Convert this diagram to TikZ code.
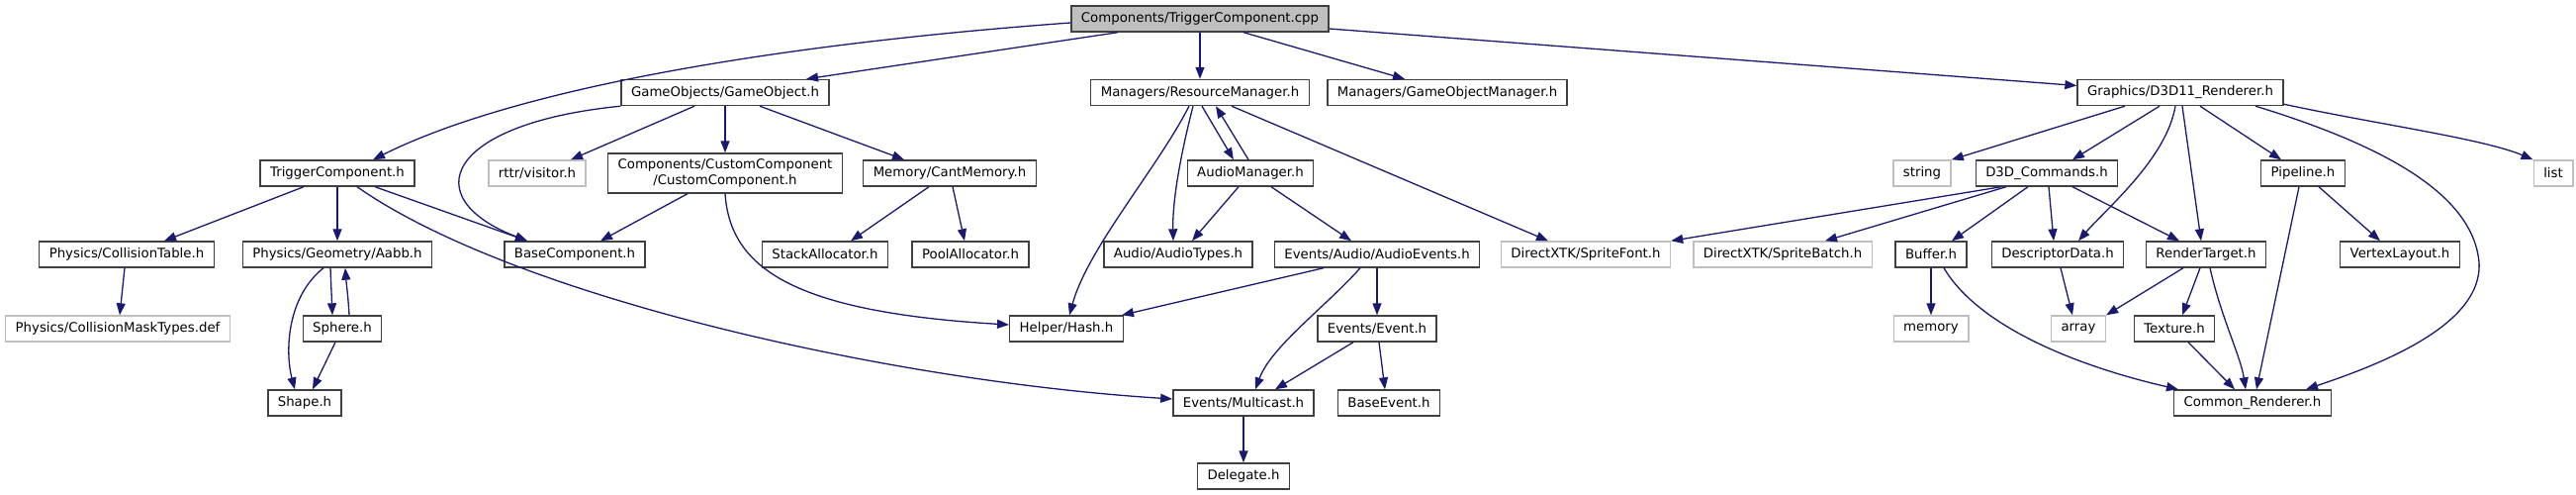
\documentclass[tikz,border=0pt]{standalone}
\usepackage{fontspec}
\setmainfont{DejaVu Sans}
\usetikzlibrary{arrows.meta,positioning}

\definecolor{edgeblue}{HTML}{191970}
\definecolor{sysgray}{HTML}{BFBFBF}
\definecolor{boxline}{HTML}{404040}

\begin{document}
\begin{tikzpicture}[x=1pt,y=-1pt,
  file/.style={draw=boxline,fill=white,line width=1.4pt,minimum height=26pt,
               inner xsep=10pt,inner ysep=3pt,align=center,
               font=\fontsize{13.3}{15.5}\selectfont},
  sysfile/.style={file,draw=sysgray},
  rootfile/.style={file,fill=sysgray},
  edge/.style={draw=edgeblue,line width=1.3pt,-{Triangle[length=12pt,width=9pt]}},
]
\useasboundingbox (0,0) rectangle (2604,500);

% Root
\node[rootfile] (cpp) at (1213,19) {Components/TriggerComponent.cpp};

% Level 1
\node[file] (go) at (733,93.5) {GameObjects/GameObject.h};
\node[file] (resmgr) at (1213,93.5) {Managers/ResourceManager.h};
\node[file] (gomgr) at (1463,93.5) {Managers/GameObjectManager.h};
\node[file] (rend) at (2204,93.5) {Graphics/D3D11\_Renderer.h};

% Level 2
\node[file] (trig) at (341,175) {TriggerComponent.h};
\node[sysfile] (rttr) at (543,175) {rttr/visitor.h};
\node[file,minimum height=40pt] (custom) at (733,175) {Components/CustomComponent\\/CustomComponent.h};
\node[file] (cantmem) at (960,175) {Memory/CantMemory.h};
\node[file] (audiomgr) at (1264,175) {AudioManager.h};
\node[sysfile] (string) at (1943,175) {string};
\node[file] (d3dcmd) at (2069,175) {D3D\_Commands.h};
\node[file] (pipeline) at (2328,175) {Pipeline.h};
\node[sysfile] (list) at (2581,175) {list};

% Level 3
\node[file] (colltab) at (128,257) {Physics/CollisionTable.h};
\node[file] (aabb) at (341,257) {Physics/Geometry/Aabb.h};
\node[file] (basecomp) at (581,257) {BaseComponent.h};
\node[file] (stackalloc) at (834,257) {StackAllocator.h};
\node[file] (poolalloc) at (981,257) {PoolAllocator.h};
\node[file] (audiotypes) at (1191,257) {Audio/AudioTypes.h};
\node[file] (audioevents) at (1392,257) {Events/Audio/AudioEvents.h};
\node[sysfile] (spritefont) at (1603,257) {DirectXTK/SpriteFont.h};
\node[sysfile] (spritebatch) at (1802,257) {DirectXTK/SpriteBatch.h};
\node[file] (buffer) at (1952,257) {Buffer.h};
\node[file] (descdata) at (2080,257) {DescriptorData.h};
\node[file] (rendtarget) at (2230,257) {RenderTarget.h};
\node[file] (vertexlayout) at (2426,257) {VertexLayout.h};

% Level 4
\node[sysfile] (masktypes) at (119,332) {Physics/CollisionMaskTypes.def};
\node[file] (sphere) at (346,332) {Sphere.h};
\node[file] (hash) at (1078,332) {Helper/Hash.h};
\node[file] (event) at (1392,332) {Events/Event.h};
\node[sysfile] (memory) at (1952,332) {memory};
\node[sysfile] (array) at (2101,332) {array};
\node[file] (texture) at (2198,332) {Texture.h};

% Level 5
\node[file] (shape) at (308,407) {Shape.h};
\node[file] (multicast) at (1257,407) {Events/Multicast.h};
\node[file] (baseevent) at (1404,407) {BaseEvent.h};
\node[file] (common) at (2277,407) {Common\_Renderer.h};

% Level 6
\node[file] (delegate) at (1257,481) {Delegate.h};

% Edges from the root
\draw[edge] ([yshift=-4pt]cpp.west) .. controls (780,45) and (520,90) .. ([xshift=36pt]trig.north);
\draw[edge] ([xshift=-83pt]cpp.south) -- ([xshift=82pt]go.north);
\draw[edge] (cpp.south) -- (resmgr.north);
\draw[edge] ([xshift=44pt]cpp.south) -- ([xshift=-43pt]gomgr.north);
\draw[edge] ([yshift=-10pt]cpp.east) -- ([yshift=7pt]rend.west);

% GameObject.h
\draw[edge] (go.south west) .. controls (450,125) and (420,200) .. ([xshift=-48pt]basecomp.north);
\draw[edge] ([xshift=-31pt]go.south) -- ([xshift=34pt]rttr.north);
\draw[edge] (go.south) -- (custom.north);
\draw[edge] ([xshift=35pt]go.south) -- ([xshift=-46pt]cantmem.north);

% TriggerComponent.h
\draw[edge] ([xshift=-34pt]trig.south) -- ([xshift=38pt]colltab.north);
\draw[edge] (trig.south) -- (aabb.north);
\draw[edge] ([xshift=20pt]trig.south) .. controls (520,300) and (900,385) .. ([yshift=4pt]multicast.west);
\draw[edge] ([xshift=38pt]trig.south) -- ([xshift=-48pt]basecomp.north);

% CustomComponent.h
\draw[edge] ([xshift=-38pt]custom.south) -- ([xshift=26pt]basecomp.north);
\draw[edge] (custom.south) .. controls (738,270) and (800,315) .. ([yshift=4pt]hash.west);

% CantMemory.h
\draw[edge] ([xshift=-21pt]cantmem.south) -- ([xshift=26pt]stackalloc.north);
\draw[edge] ([xshift=3pt]cantmem.south) -- ([xshift=-6pt]poolalloc.north);

% ResourceManager.h and AudioManager.h
\draw[edge] ([xshift=-11pt]resmgr.south) .. controls (1170,170) and (1100,250) .. ([xshift=3pt]hash.north);
\draw[edge] ([xshift=-7pt]resmgr.south) .. controls (1195,150) and (1185,200) .. ([xshift=-5pt]audiotypes.north);
\draw[edge] ([xshift=2pt]resmgr.south) -- ([xshift=-17pt]audiomgr.north);
\draw[edge] ([xshift=-2pt]audiomgr.north) -- ([xshift=16pt]resmgr.south);
\draw[edge] ([xshift=32pt]resmgr.south) -- ([xshift=-38pt]spritefont.north);
\draw[edge] ([xshift=-12pt]audiomgr.south) -- ([xshift=14pt]audiotypes.north);
\draw[edge] ([xshift=21pt]audiomgr.south) -- ([xshift=-26pt]audioevents.north);

% Events
\draw[edge] ([xshift=-54pt]audioevents.south) -- ([xshift=-2pt]hash.north east);
\draw[edge] ([xshift=-17pt]audioevents.south) .. controls (1340,310) and (1285,350) .. ([xshift=12pt]multicast.north);
\draw[edge] (audioevents.south) -- (event.north);
\draw[edge] ([xshift=-24pt]event.south) -- ([xshift=32pt]multicast.north);
\draw[edge] ([xshift=2pt]event.south) -- ([xshift=-4pt]baseevent.north);
\draw[edge] (multicast.south) -- (delegate.north);

% Physics
\draw[edge] ([xshift=-2pt]colltab.south) -- ([xshift=2pt]masktypes.north);
\draw[edge] ([xshift=-7pt]aabb.south) -- ([xshift=-10pt]sphere.north);
\draw[edge] ([xshift=7pt]sphere.north) .. controls (352,300) and (350,285) .. ([xshift=8pt]aabb.south);
\draw[edge] ([xshift=-14pt]aabb.south) .. controls (290,300) and (288,355) .. ([xshift=-10pt]shape.north);
\draw[edge] ([xshift=-7pt]sphere.south) -- ([xshift=8pt]shape.north);

% D3D11_Renderer.h
\draw[edge] ([xshift=-56pt]rend.south) -- (string.north east);
\draw[edge] ([xshift=-21pt]rend.south) -- ([xshift=26pt]d3dcmd.north);
\draw[edge] ([xshift=-5pt]rend.south) .. controls (2190,160) and (2130,210) .. ([xshift=21pt]descdata.north);
\draw[edge] ([xshift=2pt]rend.south) -- ([xshift=-5pt]rendtarget.north);
\draw[edge] ([xshift=20pt]rend.south) -- ([xshift=-22pt]pipeline.north);
\draw[edge] ([xshift=76pt]rend.south) .. controls (2420,150) and (2500,200) .. (2506,265)
  .. controls (2510,330) and (2400,370) .. ([xshift=54pt]common.north);
\draw[edge] ([yshift=2pt]rend.south east) .. controls (2400,125) and (2510,140) .. (list.north west);

% D3D_Commands.h
\draw[edge] ([xshift=-46pt]d3dcmd.south) -- (spritefont.north east);
\draw[edge] ([xshift=-41pt]d3dcmd.south) -- ([xshift=43pt]spritebatch.north);
\draw[edge] ([xshift=-19pt]d3dcmd.south) -- ([xshift=21pt]buffer.north);
\draw[edge] ([xshift=2pt]d3dcmd.south) -- ([xshift=-4pt]descdata.north);
\draw[edge] ([xshift=26pt]d3dcmd.south) -- ([xshift=-27pt]rendtarget.north);

% Pipeline.h
\draw[edge] ([xshift=16pt]pipeline.south) -- ([xshift=-20pt]vertexlayout.north);
\draw[edge] ([xshift=-4pt]pipeline.south) -- ([xshift=4pt]common.north);

% Buffer.h, DescriptorData.h, RenderTarget.h, Texture.h
\draw[edge] (buffer.south) -- (memory.north);
\draw[edge] ([xshift=13pt]buffer.south) .. controls (2000,330) and (2100,370) .. ([xshift=5pt]common.north west);
\draw[edge] ([xshift=3pt]descdata.south) -- ([xshift=-6pt]array.north);
\draw[edge] ([xshift=-23pt]rendtarget.south) -- (array.north east);
\draw[edge] ([xshift=-6pt]rendtarget.south) -- ([xshift=8pt]texture.north);
\draw[edge] ([xshift=4pt]rendtarget.south) .. controls (2245,320) and (2265,360) .. ([xshift=-7pt]common.north);
\draw[edge] ([xshift=14pt]texture.south) -- ([xshift=-18pt]common.north);

\end{tikzpicture}
\end{document}
